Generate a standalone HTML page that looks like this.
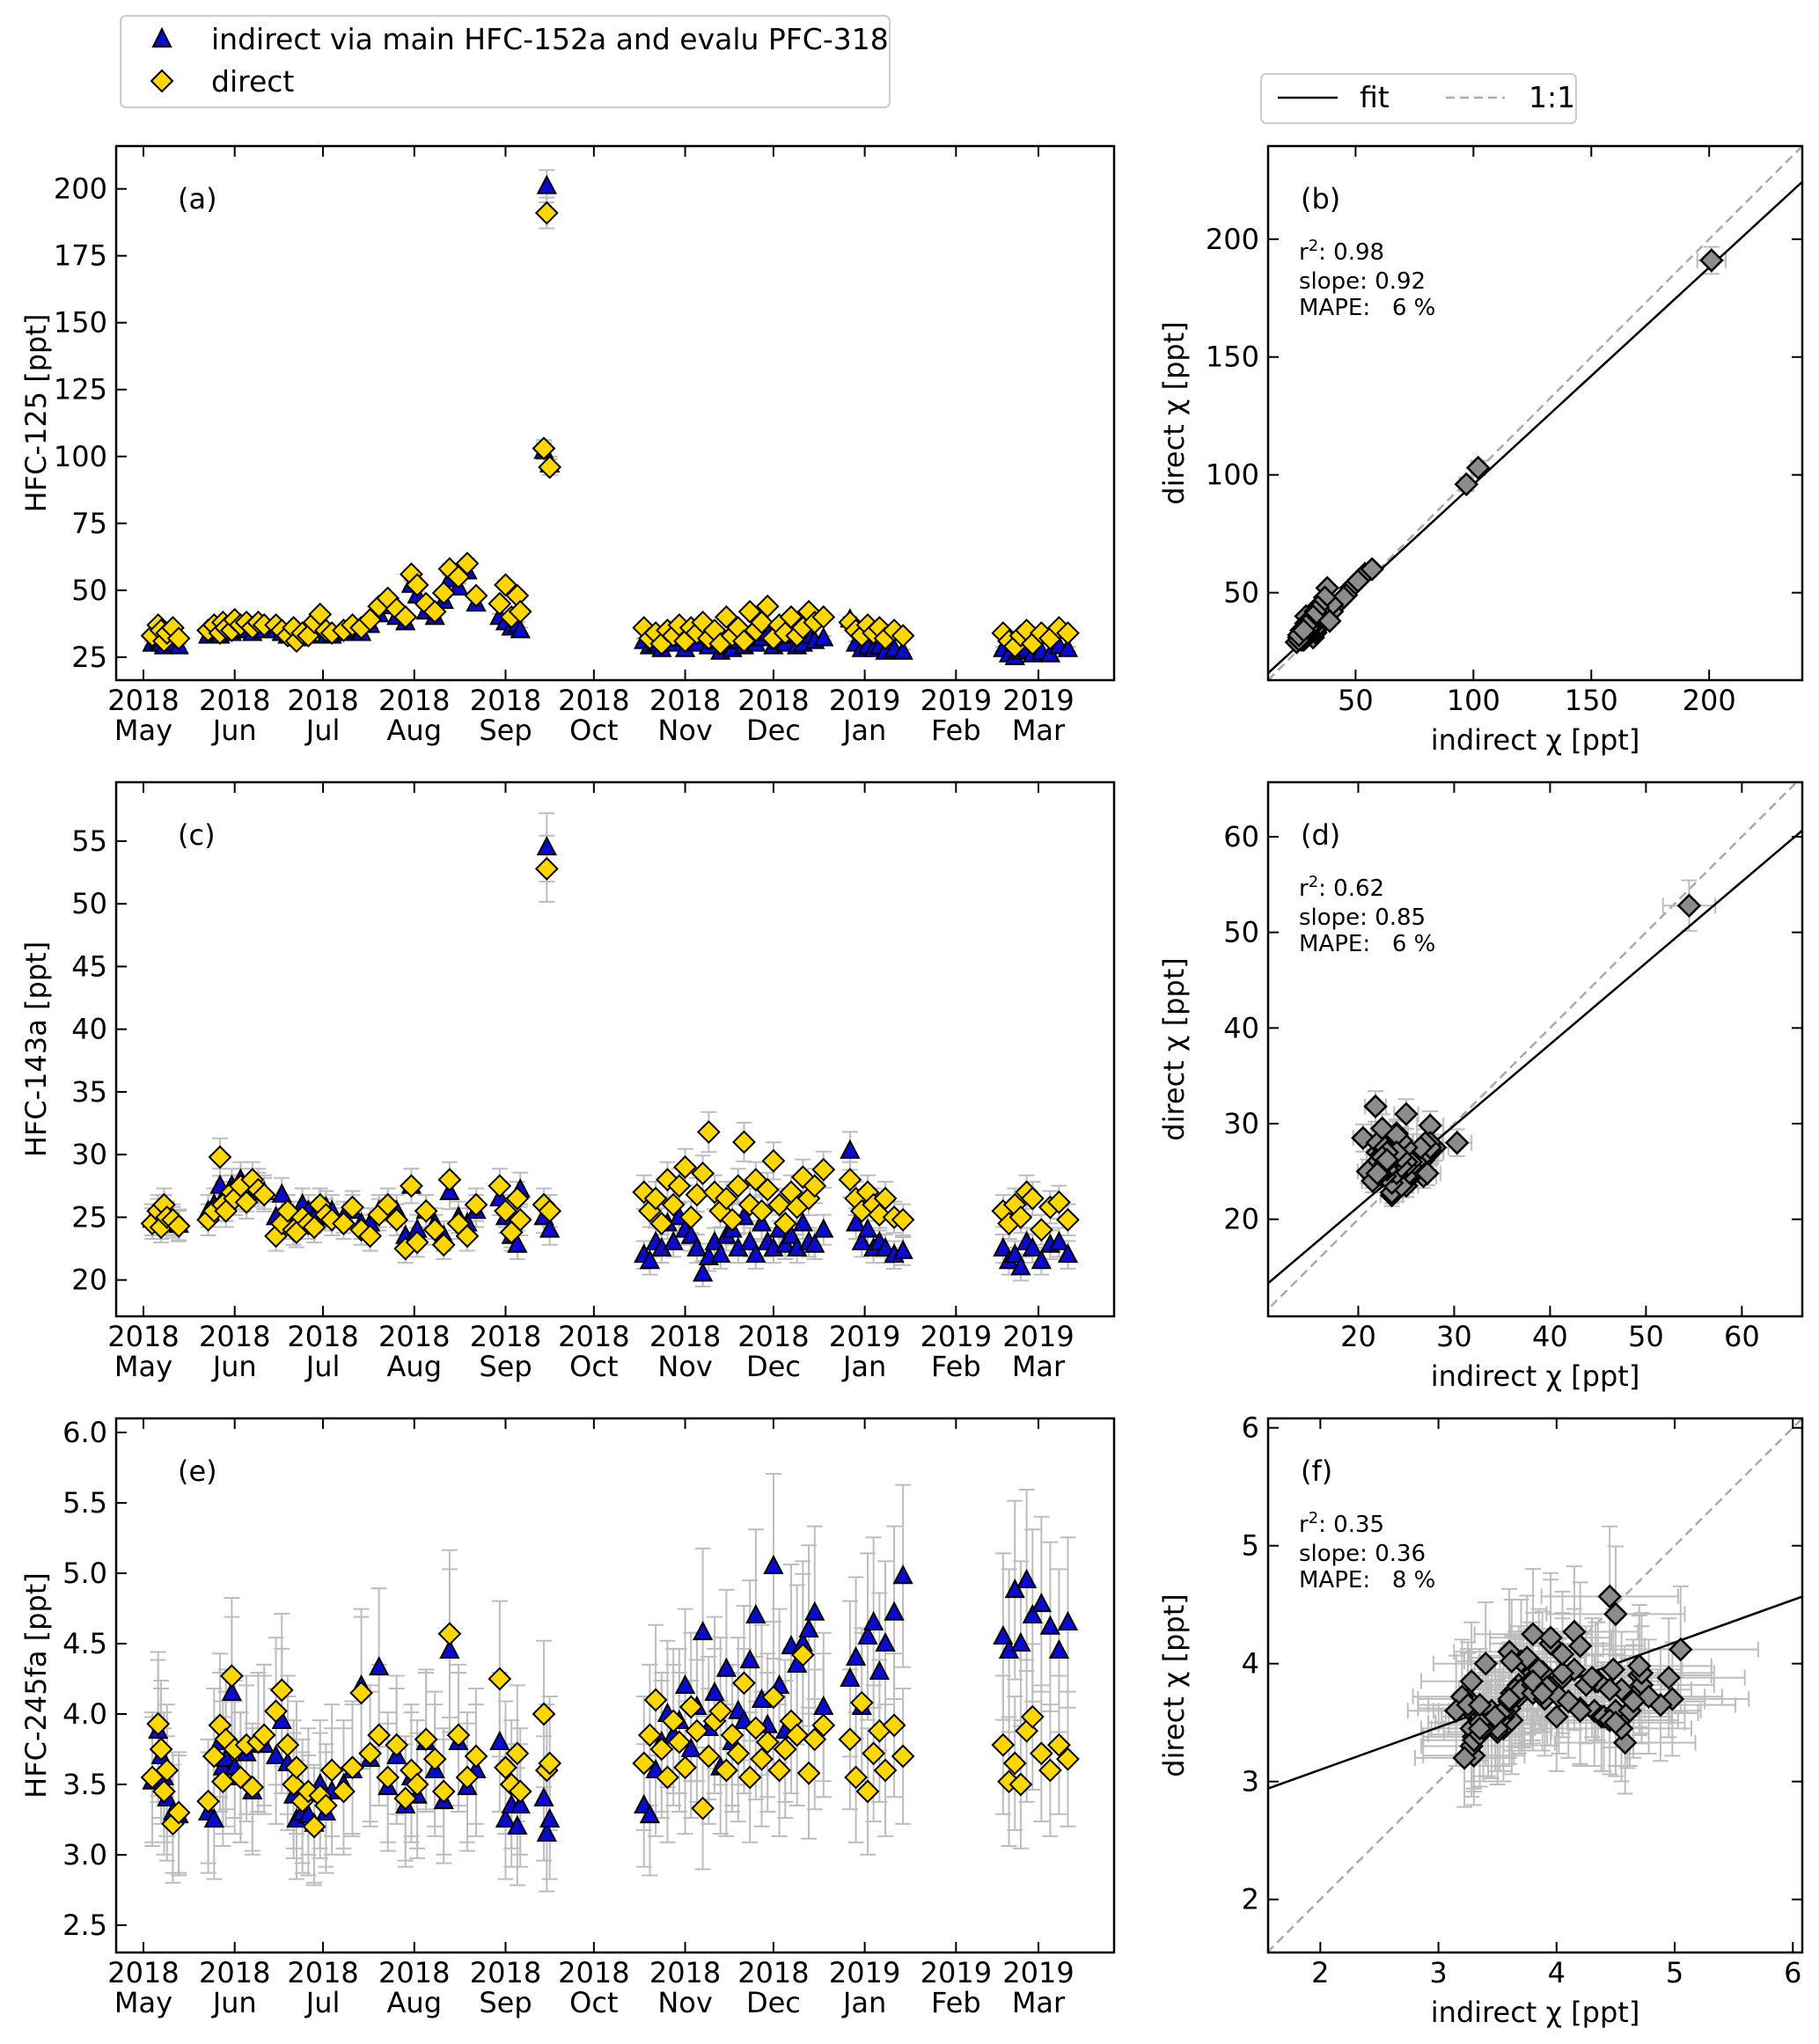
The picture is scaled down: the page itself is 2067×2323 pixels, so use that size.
<!DOCTYPE html>
<html><head><meta charset="utf-8"><style>
html,body{margin:0;padding:0;background:#fff;}
svg{display:block;font-family:"DejaVu Sans","Liberation Sans",sans-serif;}
</style></head><body>
<svg id="fig" width="2067" height="2323" viewBox="0 0 2067 2323" xmlns="http://www.w3.org/2000/svg">
<rect width="2067" height="2323" fill="#fff"/>
<g>
<rect x="137" y="18" width="874" height="104" rx="6" fill="#fff" stroke="#ccc" stroke-width="2"/>
<polygon points="184,33 174,53 194,53" fill="#0a0ad0" stroke="#000" stroke-width="2"/>
<text x="240" y="56" font-size="33">indirect via main HFC-152a and evalu PFC-318</text>
<polygon points="184,80 196,92 184,104 172,92" fill="#ffd700" stroke="#000" stroke-width="2"/>
<text x="240" y="104" font-size="33">direct</text>
</g>
<g>
<rect x="1433" y="84" width="358" height="56" rx="6" fill="#fff" stroke="#ccc" stroke-width="2"/>
<line x1="1452" y1="111" x2="1520" y2="111" stroke="#000" stroke-width="2.5"/>
<text x="1545" y="122" font-size="33">fit</text>
<line x1="1643" y1="111" x2="1710" y2="111" stroke="#aaa" stroke-width="2.5" stroke-dasharray="10,6"/>
<text x="1737" y="122" font-size="33">1:1</text>
</g>
<g id="plots"></g>
</svg>
<script>
// sample days since 2018-05-01
const days = [3,5,6,7,8,10,12, 22,24,26,27,28,30,31,33,35,37,39,41, 45,47,49,51,52,54,56,58,60,62,64,
68,71,74,77,80,83,86,89,91,93,96,99,102,104,107,110,113, 121,123,125,127,128, 136,137,138,
170,172,174,176,178,180,182,184,186,188,190,192,194,196,198,200,202,204,206,208,210,212,214,216,218,220,222,224,226,228,231,
240,242,244,246,248,250,252,255,258, 292,294,296,298,300,302,305,308,311,314];
const hfc125Direct = [33,37,35,31,34,36,32, 35,37,34,38,36,35,39,37,38,36,38,37, 37,35,33,36,31,34,33,38,41,35,34,
35,37,36,39,44,47,43,40,56,52,45,42,49,58,55,60,48, 45,52,40,48,42, 103,191,96,
36,32,34,30,35,33,37,31,36,34,38,32,35,30,40,33,36,31,42,35,38,44,32,37,34,40,33,36,42,38,40,
38,35,33,37,34,36,32,35,33, 34,31,29,33,35,30,34,32,36,34];
const hfc125Indirect = [30,31,30,29,31,30,29, 33,34,33,35,34,34,36,35,35,34,36,35, 35,34,33,34,32,33,33,35,37,33,33,
34,35,34,37,41,44,40,38,52,48,42,40,46,54,51,57,45, 40,38,36,37,35, 102,201,97,
31,29,30,28,31,30,32,28,31,30,33,29,31,27,29,28,31,29,33,30,32,34,29,31,30,33,29,30,33,31,32,
39,30,28,29,28,29,27,28,27, 28,26,25,27,28,26,27,26,29,28];
const hfc143aDirect = [24.5,25.5,24.2,26.0,25.0,24.8,24.3, 24.8,25.5,29.8,26.0,25.5,27.0,26.5,27.5,26.2,28.0,27.2,26.8,
23.5,24.5,25.5,24.0,23.8,25.0,24.5,24.2,26.0,25.2,24.8,
24.5,25.8,24.0,23.5,25.2,26.0,24.8,22.5,27.5,23.0,25.5,24.0,22.8,28.0,24.5,23.5,26.0, 27.5,25.5,23.8,26.5,24.8, 26.0,52.8,25.5,
27.0,25.5,26.5,24.5,28.0,26.0,27.5,29.0,25.0,26.8,28.5,31.8,27.0,25.5,26.5,24.8,27.5,31.0,26.0,28.0,25.5,27.2,29.5,26.0,24.5,27.0,25.8,28.2,26.5,27.5,28.8,
28.0,26.5,25.5,27.0,26.0,25.2,26.5,25.0,24.8, 25.5,24.5,26.0,25.0,27.0,26.5,24.0,25.8,26.2,24.8];
const hfc143aIndirect = [24.8,25.2,24.5,25.5,25.0,24.6,24.4, 25.5,26.0,27.5,26.5,26.0,27.5,27.0,28.0,26.8,27.5,27.5,27.0,
25.0,26.8,25.5,25.0,24.5,26.0,25.5,25.0,26.0,25.8,25.5,
25.0,25.5,24.5,24.5,25.5,26.0,25.5,23.5,27.5,24.0,25.5,24.5,23.5,27.0,25.0,24.5,25.5, 26.5,25.0,23.5,22.8,27.2, 25.0,54.5,24.0,
22.0,21.5,23.0,22.5,24.5,23.0,25.0,24.0,23.5,22.5,20.5,21.8,23.0,22.0,23.5,24.0,22.5,25.0,23.0,22.0,24.5,23.0,22.5,24.0,22.8,23.5,22.5,24.5,23.0,22.8,24.0,
30.3,24.5,23.0,24.0,22.5,23.0,22.5,22.0,22.3, 22.5,21.5,22.0,21.0,23.0,22.5,21.5,22.8,23.0,22.0];
const hfc245faDirect = [3.55,3.93,3.75,3.45,3.6,3.22,3.3, 3.38,3.7,3.92,3.52,3.82,4.27,3.75,3.55,3.78,3.48,3.8,3.85,
4.02,4.17,3.78,3.5,3.62,3.38,3.45,3.2,3.42,3.35,3.6,
3.45,3.62,4.15,3.72,3.85,3.55,3.78,3.4,3.6,3.5,3.82,3.68,3.45,4.57,3.85,3.55,3.7, 4.25,3.62,3.5,3.72,3.45, 4.0,3.6,3.65,
3.65,3.85,4.1,3.75,3.55,3.95,3.8,3.62,4.05,3.88,3.33,3.7,3.95,4.02,3.6,3.85,3.72,4.22,3.55,3.9,3.68,3.8,4.12,3.6,3.75,3.95,3.85,4.42,3.58,3.82,3.92,
3.82,3.55,4.08,3.45,3.72,3.88,3.6,3.92,3.7, 3.78,3.52,3.65,3.5,3.88,3.98,3.72,3.6,3.78,3.68];
const hfc245faIndirect = [3.52,3.88,3.7,3.55,3.4,3.3,3.28, 3.3,3.25,3.8,3.62,3.68,4.15,3.62,3.55,3.72,3.45,3.78,3.78,
3.7,3.95,3.65,3.42,3.25,3.3,3.28,3.22,3.5,3.3,3.45,
3.5,3.6,4.2,3.68,4.33,3.48,3.7,3.35,3.55,3.42,3.8,3.6,3.38,4.45,3.8,3.48,3.6, 3.8,3.25,3.35,3.2,3.35, 3.4,3.15,3.25,
3.35,3.28,3.6,3.8,4.0,3.85,3.95,4.2,3.75,4.05,4.58,3.9,4.15,3.62,4.32,3.8,4.02,3.95,4.38,4.7,4.1,3.92,5.05,4.2,3.88,4.48,4.35,4.5,4.6,4.72,4.05,
4.25,4.4,4.05,4.55,4.65,4.3,4.5,4.72,4.98, 4.55,4.45,4.88,4.5,4.95,4.7,4.78,4.62,4.45,4.65];
const relErr = [0.03, 0.05, 0.13];
const fitSlope = [0.92, 0.85, 0.36];
const fitIntercept = [4, 4.3, 2.38];
const statR2 = ["0.98","0.62","0.35"];
const statSlope = ["0.92","0.85","0.36"];
const statMape = ["6","6","8"];
const monthDays = [0,31,61,92,123,153,184,214,245,276,304];
const monthYears = ["2018","2018","2018","2018","2018","2018","2018","2018","2019","2019","2019"];
const monthNames = ["May","Jun","Jul","Aug","Sep","Oct","Nov","Dec","Jan","Feb","Mar"];
const ytA=[25,50,75,100,125,150,175,200], ytC=[20,25,30,35,40,45,50,55], ytE=[2.5,3.0,3.5,4.0,4.5,5.0,5.5,6.0];
const stB=[50,100,150,200], stD=[20,30,40,50,60], stF=[2,3,4,5,6];

const NS="http://www.w3.org/2000/svg";
const root=document.getElementById('plots');
function el(tag,attrs,parent){const e=document.createElementNS(NS,tag);for(const k in attrs)e.setAttribute(k,attrs[k]);(parent||root).appendChild(e);return e;}
function txt(s,attrs,parent){const e=el('text',attrs,parent);e.textContent=s;return e;}
function lin(d0,d1,r0,r1){return v=>r0+(v-d0)/(d1-d0)*(r1-r0);}

const tops=[166,889,1612], H=607;
const species=[
 {dir:hfc125Direct, ind:hfc125Indirect, ylim:[16.4,216], yt:ytA, fmt:v=>String(v), lab:"HFC-125 [ppt]", l1:"(a)", l2:"(b)", sx:[12.9,239.5], sy:[12.9,239.5], st:stB},
 {dir:hfc143aDirect, ind:hfc143aIndirect, ylim:[17.1,59.7], yt:ytC, fmt:v=>String(v), lab:"HFC-143a [ppt]", l1:"(c)", l2:"(d)", sx:[10.6,66.3], sy:[9.85,65.7], st:stD},
 {dir:hfc245faDirect, ind:hfc245faIndirect, ylim:[2.306,6.1], yt:ytE, fmt:v=>v.toFixed(1), lab:"HFC-245fa [ppt]", l1:"(e)", l2:"(f)", sx:[1.558,6.08], sy:[1.55,6.08], st:stF}
];

species.forEach((sp,i)=>{
 const top=tops[i], bot=top+H;
 const n=Math.min(days.length, sp.dir.length, sp.ind.length);
 // ---------- time series ----------
 const L=132,R=1266;
 const g=el('g',{});
 
 
 const x=lin(0,304,163,1180), y=lin(sp.ylim[0],sp.ylim[1],bot,top);
 const clipId='c'+i; const cp=el('clipPath',{id:clipId},g); el('rect',{x:L,y:top,width:R-L,height:H},cp);
 const pg=el('g',{'clip-path':'url(#'+clipId+')'},g);
 const e=relErr[i];
 for(let k=0;k<n;k++){
  [sp.ind[k],sp.dir[k]].forEach(v=>{
   const xx=x(days[k]), y1=y(v*(1-e)), y2=y(v*(1+e));
   const eb=el('path',{d:`M${xx},${y1}V${y2}M${xx-9},${y1}H${xx+9}M${xx-9},${y2}H${xx+9}`,stroke:'#bdbdbd','stroke-width':2,fill:'none'},pg);
   
   
  });
 }
 for(let k=0;k<n;k++){
  const xx=x(days[k]), yy=y(sp.ind[k]);
  const t=el('polygon',{points:`${xx},${yy-11} ${xx-10},${yy+8} ${xx+10},${yy+8}`,fill:'#0a0ad0',stroke:'#000','stroke-width':2},pg);
  
  
 }
 for(let k=0;k<n;k++){
  const xx=x(days[k]), yy=y(sp.dir[k]);
  const d=el('polygon',{points:`${xx},${yy-12} ${xx+12},${yy} ${xx},${yy+12} ${xx-12},${yy}`,fill:'#ffd700',stroke:'#000','stroke-width':2},pg);
  
  
 }
 el('rect',{x:L,y:top,width:R-L,height:H,fill:'none',stroke:'#000','stroke-width':2.5},g);
 monthDays.forEach((md,j)=>{
  const xx=x(md);
  el('line',{x1:xx,y1:bot,x2:xx,y2:bot-12,stroke:'#000','stroke-width':2},g);
  el('line',{x1:xx,y1:top,x2:xx,y2:top+12,stroke:'#000','stroke-width':2},g);
  txt(monthYears[j],{x:xx,y:bot+34,'font-size':32,'text-anchor':'middle'},g);
  txt(monthNames[j],{x:xx,y:bot+68,'font-size':32,'text-anchor':'middle'},g);
 });
 sp.yt.forEach(v=>{
  const yy=y(v);
  el('line',{x1:L,y1:yy,x2:L+12,y2:yy,stroke:'#000','stroke-width':2},g);
  txt(sp.fmt(v),{x:L-10,y:yy+11,'font-size':32,'text-anchor':'end'},g);
 });
 const yl=txt(sp.lab,{x:0,y:0,'font-size':32,'text-anchor':'middle',transform:`translate(52,${(top+bot)/2}) rotate(-90)`},g);
 
 
 txt(sp.l1,{x:202,y:top+71,'font-size':32},g);

 // ---------- scatter ----------
 const SL=1441,SR=2048;
 const s=el('g',{});
 
 
 const sx=lin(sp.sx[0],sp.sx[1],SL,SR), sy=lin(sp.sy[0],sp.sy[1],bot,top);
 const cid='s'+i; const cp2=el('clipPath',{id:cid},s); el('rect',{x:SL,y:top,width:SR-SL,height:H},cp2);
 const sg=el('g',{'clip-path':'url(#'+cid+')'},s);
 const lo=Math.min(sp.sx[0],sp.sy[0]), hi=Math.max(sp.sx[1],sp.sy[1]);
 const one=el('line',{x1:sx(lo),y1:sy(lo),x2:sx(hi),y2:sy(hi),stroke:'#aaa','stroke-width':2.5,'stroke-dasharray':'10,6'},sg);
 
 
 for(let k=0;k<n;k++){
  const a=sp.ind[k], b=sp.dir[k];
  const xx=sx(a), yy=sy(b);
  const x1=sx(a*(1-e)), x2=sx(a*(1+e)), y1=sy(b*(1-e)), y2=sy(b*(1+e));
  const eb=el('path',{d:`M${x1},${yy}H${x2}M${x1},${yy-9}V${yy+9}M${x2},${yy-9}V${yy+9}M${xx},${y1}V${y2}M${xx-9},${y1}H${xx+9}M${xx-9},${y2}H${xx+9}`,stroke:'#bdbdbd','stroke-width':2,fill:'none'},sg);
  
  
 }
 const fit=el('line',{x1:sx(sp.sx[0]),y1:sy(fitIntercept[i]+fitSlope[i]*sp.sx[0]),x2:sx(sp.sx[1]),y2:sy(fitIntercept[i]+fitSlope[i]*sp.sx[1]),stroke:'#000','stroke-width':2.5},sg);
 
 
 for(let k=0;k<n;k++){
  const xx=sx(sp.ind[k]), yy=sy(sp.dir[k]);
  const d=el('polygon',{points:`${xx},${yy-12} ${xx+12},${yy} ${xx},${yy+12} ${xx-12},${yy}`,fill:'#8c8c8c',stroke:'#000','stroke-width':2.5},sg);
  
  
 }
 el('rect',{x:SL,y:top,width:SR-SL,height:H,fill:'none',stroke:'#000','stroke-width':2.5},s);
 sp.st.forEach(v=>{
  const xx=sx(v), yy=sy(v);
  el('line',{x1:xx,y1:bot,x2:xx,y2:bot-12,stroke:'#000','stroke-width':2},s);
  el('line',{x1:xx,y1:top,x2:xx,y2:top+12,stroke:'#000','stroke-width':2},s);
  txt(String(v),{x:xx,y:bot+34,'font-size':32,'text-anchor':'middle'},s);
  el('line',{x1:SL,y1:yy,x2:SL+12,y2:yy,stroke:'#000','stroke-width':2},s);
  el('line',{x1:SR,y1:yy,x2:SR-12,y2:yy,stroke:'#000','stroke-width':2},s);
  txt(String(v),{x:SL-10,y:yy+11,'font-size':32,'text-anchor':'end'},s);
 });
 const xl=txt('indirect χ [ppt]',{x:(SL+SR)/2,y:bot+79,'font-size':32,'text-anchor':'middle'},s);
 
 
 const yl2=txt('direct χ [ppt]',{x:0,y:0,'font-size':32,'text-anchor':'middle',transform:`translate(1345,${(top+bot)/2}) rotate(-90)`},s);
 
 
 txt(sp.l2,{x:1478,y:top+71,'font-size':32},s);
 const r2=el('text',{x:1476,y:top+129,'font-size':26},s);
 r2.innerHTML='r<tspan dy="-10" font-size="18">2</tspan><tspan dy="10">: '+statR2[i]+'</tspan>';
 txt('slope: '+statSlope[i],{x:1476,y:top+162,'font-size':26},s);
 txt('MAPE:   '+statMape[i]+' %',{x:1476,y:top+192,'font-size':26,'xml:space':'preserve'},s).setAttribute('style','white-space:pre');
});
</script>
</body></html>
